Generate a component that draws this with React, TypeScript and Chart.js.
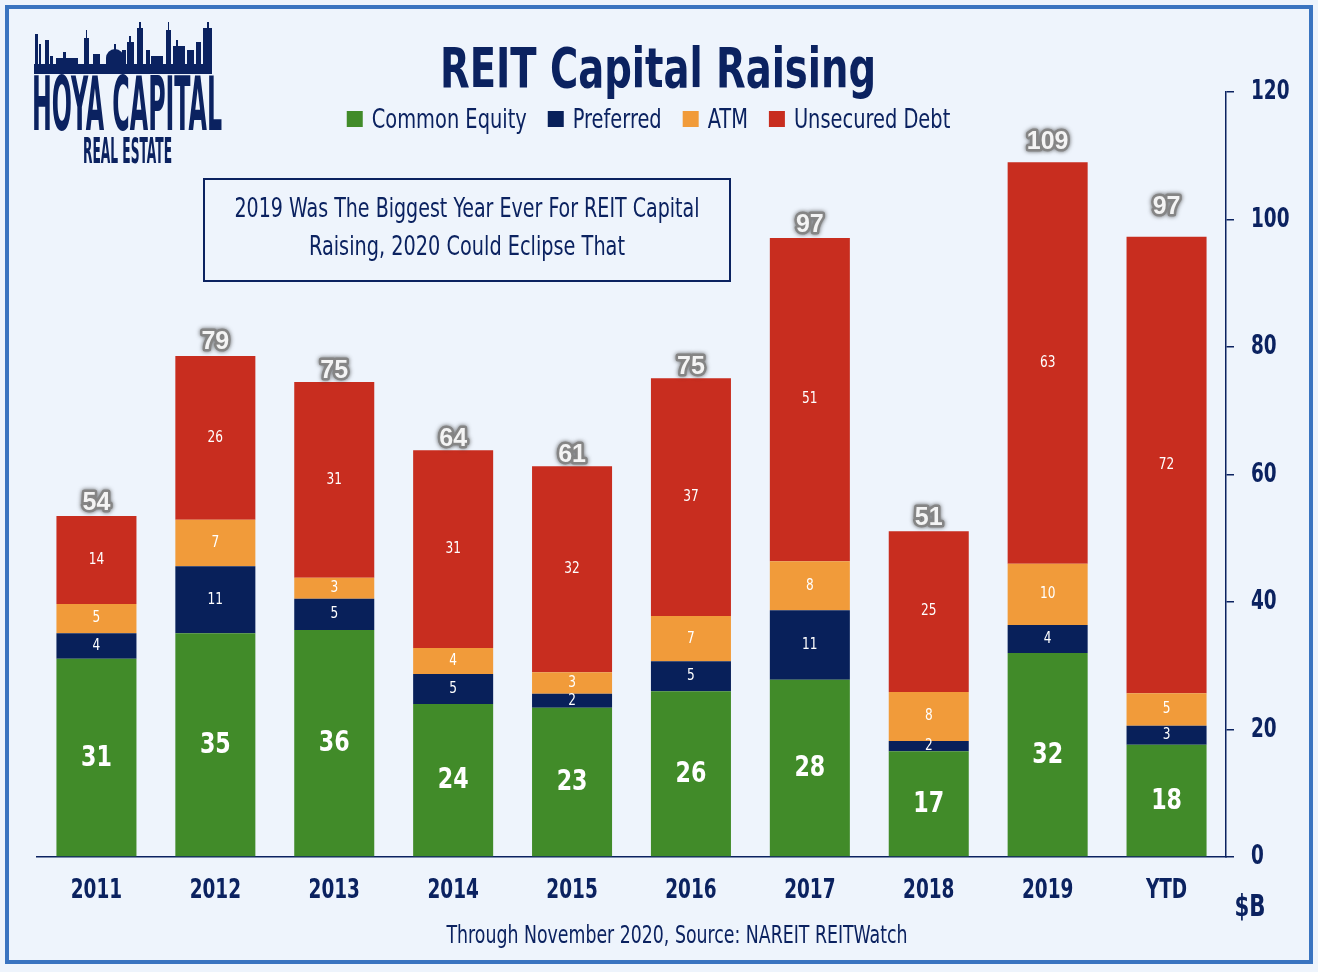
import React, { useEffect, useRef } from 'react';
import { Chart, registerables } from 'chart.js';

Chart.register(...registerables);

// ---------- data ----------
const categories = ['2011', '2012', '2013', '2014', '2015', '2016', '2017', '2018', '2019', 'YTD'];
const commonEquity = [31.1, 35.1, 35.6, 24.0, 23.4, 26.0, 27.8, 16.6, 32.0, 17.6];
const preferred = [4.0, 10.5, 4.9, 4.7, 2.2, 4.7, 10.9, 1.6, 4.4, 3.0];
const atm = [4.6, 7.3, 3.3, 4.1, 3.4, 7.1, 7.7, 7.7, 9.6, 5.1];
const unsecuredDebt = [13.8, 25.7, 30.7, 31.0, 32.3, 37.3, 50.7, 25.2, 63.0, 71.6];
const totalLabels = [54, 79, 75, 64, 61, 75, 97, 51, 109, 97];
const yTicks = [0, 20, 40, 60, 80, 100, 120];
const seriesNames = ['Common Equity', 'Preferred', 'ATM', 'Unsecured Debt'];

const titleText = 'REIT Capital Raising';
const noteLines = ['2019 Was The Biggest Year Ever For REIT Capital', 'Raising, 2020 Could Eclipse That'];
const sourceText = 'Through November 2020, Source: NAREIT REITWatch';
const unitText = '$B';

// ---------- styles ----------
const NAVY = '#0b2260';
const BG = '#eef4fc';
const FRAME = '#3a74c0';
const COLORS = ['#418b29', '#08205a', '#f19b3a', '#c82d1f'];
const COND = '"Liberation Sans Narrow", "DejaVu Sans Condensed", "Roboto", sans-serif';
const ARIAL = '"Liberation Sans", Arial, sans-serif';
const TOTAL_LIFT = [13, 14, 11, 11, 11, 11, 13, 13, 20, 30]; // label gap above bar (px)

function fitText(ctx: CanvasRenderingContext2D, text: string, cx: number, y: number, width: number) {
  const w = ctx.measureText(text).width;
  ctx.save();
  ctx.translate(cx, y);
  ctx.scale(width / w, 1);
  ctx.textAlign = 'center';
  ctx.fillText(text, 0, 0);
  ctx.restore();
}

function squeezeText(ctx: CanvasRenderingContext2D, text: string, x: number, y: number, k: number, align: CanvasTextAlign) {
  ctx.save();
  ctx.translate(x, y);
  ctx.scale(k, 1);
  ctx.textAlign = align;
  ctx.fillText(text, 0, 0);
  ctx.restore();
}

function drawSkyline(ctx: CanvasRenderingContext2D) {
  ctx.save();
  ctx.fillStyle = NAVY;
  ctx.fillRect(34, 64, 178, 10);
  const towers: [number, number, number][] = [
    [35, 3, 34], [39, 2, 44], [45, 4, 40], [50, 3, 56], [56, 22, 58], [63, 3, 52],
    [84, 5, 38], [86, 1, 30], [93, 7, 54], [122, 4, 50], [127, 7, 42], [129, 2, 36],
    [137, 6, 28], [139, 2, 22], [146, 4, 50], [151, 12, 56], [166, 5, 30], [168, 1, 22],
    [173, 12, 46], [176, 2, 40], [187, 7, 50], [196, 5, 42], [203, 9, 28], [207, 2, 22],
  ];
  towers.forEach(([x, w, t]) => ctx.fillRect(x, t, w, 64 - t));
  ctx.beginPath();
  ctx.arc(115, 58, 9, Math.PI, 0);
  ctx.fill();
  ctx.fillRect(106, 58, 18, 6);
  ctx.fillRect(114, 44, 2, 6);
  ctx.restore();
}

const decorPlugin = {
  id: 'decor',
  beforeDraw(chart: any) {
    const ctx: CanvasRenderingContext2D = chart.ctx;
    ctx.save();
    ctx.fillStyle = BG;
    ctx.fillRect(0, 0, chart.width, chart.height);
    ctx.restore();
  },
  afterDatasetsDraw(chart: any) {
    const ctx: CanvasRenderingContext2D = chart.ctx;
    ctx.save();
    ctx.textAlign = 'center';
    ctx.textBaseline = 'middle';
    chart.data.datasets.forEach((ds: any, di: number) => {
      const meta = chart.getDatasetMeta(di);
      meta.data.forEach((el: any, i: number) => {
        const { x, y, base } = el.getProps(['x', 'y', 'base'], true);
        const cy = (y + base) / 2;
        const label = String(Math.round(ds.data[i]));
        ctx.fillStyle = '#ffffff';
        if (di === 0) {
          ctx.font = `bold 28px ${COND}`;
          squeezeText(ctx, label, x, cy + 1, 0.88, 'center');
        } else {
          ctx.font = `15px ${COND}`;
          squeezeText(ctx, label, x, cy, 0.9, 'center');
        }
      });
    });
    const last = chart.getDatasetMeta(chart.data.datasets.length - 1);
    last.data.forEach((el: any, i: number) => {
      const { x, y } = el.getProps(['x', 'y'], true);
      const t = String(totalLabels[i]);
      const ty = y - TOTAL_LIFT[i];
      ctx.font = `bold 25px ${ARIAL}`;
      ctx.lineJoin = 'round';
      ctx.shadowColor = 'rgba(60,60,60,0.8)';
      ctx.shadowBlur = 4;
      ctx.strokeStyle = '#858585';
      ctx.lineWidth = 5;
      ctx.strokeText(t, x, ty);
      ctx.shadowBlur = 0;
      ctx.shadowColor = 'transparent';
      ctx.fillStyle = '#f4f4f4';
      ctx.fillText(t, x, ty);
    });
    ctx.restore();
  },
  afterDraw(chart: any) {
    const ctx: CanvasRenderingContext2D = chart.ctx;
    const xs = chart.scales.x;
    const ys = chart.scales.y;
    ctx.save();
    // frame
    ctx.strokeStyle = FRAME;
    ctx.lineWidth = 4;
    ctx.strokeRect(7, 7, 1304, 955);

    ctx.fillStyle = NAVY;
    ctx.textBaseline = 'middle';
    // x tick labels
    ctx.font = `bold 27px ${COND}`;
    categories.forEach((c, i) => {
      squeezeText(ctx, c, xs.getPixelForTick(i), 891, 0.76, 'center');
    });
    // y tick labels
    ctx.font = `bold 27px ${COND}`;
    yTicks.forEach((v) => {
      squeezeText(ctx, String(v), ys.right - 45 - 0, ys.getPixelForValue(v), 0.76, 'left');
    });

    ctx.textBaseline = 'alphabetic';
    // title
    ctx.font = `bold 56px ${COND}`;
    fitText(ctx, titleText, 658, 87, 436);

    // legend
    ctx.font = `27px ${COND}`;
    const k = 155 / ctx.measureText(seriesNames[0]).width;
    const sq = 16, gapSq = 9, gapItem = 21;
    const widths = seriesNames.map((n) => ctx.measureText(n).width * k);
    const total = widths.reduce((a, w) => a + sq + gapSq + w, 0) + gapItem * (seriesNames.length - 1);
    let lx = 648.5 - total / 2;
    seriesNames.forEach((n, i) => {
      ctx.fillStyle = COLORS[i];
      ctx.fillRect(lx, 111, sq, sq);
      lx += sq + gapSq;
      ctx.fillStyle = NAVY;
      squeezeText(ctx, n, lx, 128, k, 'left');
      lx += widths[i] + gapItem;
    });

    // logo
    drawSkyline(ctx);
    ctx.fillStyle = NAVY;
    ctx.font = `bold 74px ${COND}`;
    fitText(ctx, 'HOYA CAPITAL', 127, 130, 190);
    ctx.font = `bold 36px ${COND}`;
    fitText(ctx, 'REAL ESTATE', 127.5, 163, 89);

    // note box
    ctx.strokeStyle = NAVY;
    ctx.lineWidth = 2;
    ctx.strokeRect(204, 179, 526, 102);
    ctx.font = `27px ${COND}`;
    fitText(ctx, noteLines[0], 467, 217, 465);
    fitText(ctx, noteLines[1], 467, 255, 316);

    // source
    ctx.font = `25px ${COND}`;
    fitText(ctx, sourceText, 677, 943, 461);

    // unit
    ctx.font = `bold 30px ${COND}`;
    fitText(ctx, unitText, 1250, 916, 31);
    ctx.restore();
  },
};

export default function App() {
  const ref = useRef<HTMLCanvasElement | null>(null);
  useEffect(() => {
    if (!ref.current) return;
    const chart = new Chart(ref.current, {
      type: 'bar',
      data: {
        labels: categories,
        datasets: [commonEquity, preferred, atm, unsecuredDebt].map((d, i) => ({
          label: seriesNames[i],
          data: d,
          backgroundColor: COLORS[i],
          borderWidth: 0,
          categoryPercentage: 0.673,
          barPercentage: 1,
        })),
      },
      options: {
        responsive: false,
        animation: false,
        devicePixelRatio: 1,
        layout: { padding: { left: 37, right: 22, top: 92, bottom: 55 } },
        plugins: {
          legend: { display: false },
          tooltip: { enabled: false },
          title: { display: false },
        },
        scales: {
          x: {
            stacked: true,
            grid: { display: false, drawTicks: false },
            border: { display: true, color: NAVY, width: 1.5 },
            ticks: { display: false },
            afterFit: (s: any) => { s.height = 60; },
          },
          y: {
            position: 'right',
            stacked: true,
            min: 0,
            max: 120,
            grid: { drawOnChartArea: false, tickLength: 8, color: NAVY, lineWidth: 1.5 },
            border: { display: true, color: NAVY, width: 1.5 },
            ticks: { display: false },
            afterBuildTicks: (s: any) => { s.ticks = yTicks.map((v) => ({ value: v })); },
            afterFit: (s: any) => { s.width = 70; },
          },
        },
      } as any,
      plugins: [decorPlugin],
    });
    return () => chart.destroy();
  }, []);
  return (
    <div style={{ position: 'fixed', left: 0, top: 0, width: 1318, height: 972, background: BG }}>
      <canvas ref={ref} width={1318} height={972} style={{ display: 'block', width: 1318, height: 972 }} />
    </div>
  );
}
